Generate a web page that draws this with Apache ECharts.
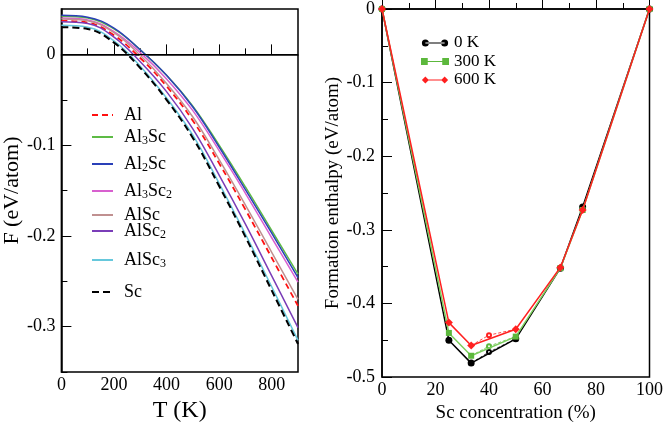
<!DOCTYPE html>
<html><head><meta charset="utf-8">
<script src="https://cdn.jsdelivr.net/npm/echarts@6/dist/echarts.min.js"></script>
<style>html,body{margin:0;padding:0;background:#fff}#c{width:666px;height:428px}</style>
</head><body><div id="c"></div><script>
// ---- Left panel: free energy vs temperature ----
const temps = [0, 100, 200, 300, 400, 500, 600, 700, 800, 900];
const F_Al     = [0.037, 0.035, 0.021, -0.004, -0.035, -0.073, -0.120, -0.171, -0.224, -0.277];
const F_Al3Sc  = [0.042, 0.040, 0.028, 0.005, -0.023, -0.057, -0.100, -0.146, -0.194, -0.242];
const F_Al2Sc  = [0.043, 0.041, 0.029, 0.005, -0.023, -0.058, -0.102, -0.149, -0.197, -0.246];
const F_Al3Sc2 = [0.040, 0.038, 0.025, 0.002, -0.027, -0.062, -0.106, -0.153, -0.202, -0.251];
const F_AlSc   = [0.039, 0.037, 0.024, -0.001, -0.032, -0.069, -0.116, -0.166, -0.218, -0.270];
const F_AlSc2  = [0.036, 0.034, 0.019, -0.008, -0.041, -0.082, -0.133, -0.187, -0.244, -0.301];
const F_AlSc3  = [0.032, 0.030, 0.015, -0.013, -0.048, -0.089, -0.142, -0.198, -0.256, -0.315];
const F_Sc     = [0.030, 0.028, 0.013, -0.015, -0.050, -0.092, -0.145, -0.201, -0.260, -0.319];
const phaseNames = ['Al', 'Al3Sc', 'Al2Sc', 'Al3Sc2', 'AlSc', 'AlSc2', 'AlSc3', 'Sc'];
const phaseLabels = ['Al', 'Al{s|3}Sc', 'Al{s|2}Sc', 'Al{s|3}Sc{s|2}', 'AlSc', 'AlSc{s|2}', 'AlSc{s|3}', 'Sc'];
const tTickLabels = [0, 200, 400, 600, 800];
const tMinorTicks = [100, 300, 500, 700];
const fTickLabels = [-0.3, -0.2, -0.1, 0];
const fMinorTicks = [-0.35, -0.25, -0.15, -0.05];

// ---- Right panel: formation enthalpy vs Sc concentration ----
const concentrations = [0, 25, 33.33, 50, 66.67, 75, 100];
const H_0K   = [0, -0.450, -0.481, -0.448, -0.352, -0.269, 0];
const H_300K = [0, -0.440, -0.471, -0.445, -0.352, -0.273, 0];
const H_600K = [0, -0.426, -0.457, -0.435, -0.351, -0.273, 0];
const metaConc = [33.33, 40, 50];
const Hm_0K   = [-0.481, -0.466, -0.448];
const Hm_300K = [-0.471, -0.458, -0.445];
const Hm_600K = [-0.457, -0.443, -0.435];
const tempNames = ['0 K', '300 K', '600 K'];

const FONT = 'Liberation Serif';
const phaseData = [F_Al, F_Al3Sc, F_Al2Sc, F_Al3Sc2, F_AlSc, F_AlSc2, F_AlSc3, F_Sc];
const phaseColors = ['#ff1010', '#5dbb45', '#2a40b8', '#d860cf', '#c09090', '#7a3db8', '#66c8dc', '#000000'];
const phaseDash = [[6, 4], null, null, null, null, null, null, [7, 4]];
const phaseWidth = [1.8, 1.5, 1.5, 1.5, 1.5, 1.5, 1.5, 2];
const legendCenters = [115, 137, 164, 191, 215, 231, 260, 292];

const zip = (xs, ys) => xs.map((x, i) => [x, ys[i]]);

const series = [];
phaseNames.forEach((n, i) => {
  const s = {
    name: n, type: 'line', xAxisIndex: 0, yAxisIndex: 0,
    data: zip(temps, phaseData[i]), smooth: 0.4, symbol: 'none',
    lineStyle: {color: phaseColors[i], width: phaseWidth[i], type: phaseDash[i] || 'solid'},
    itemStyle: {color: phaseColors[i]}, z: 3
  };
  if (i === 0) {
    s.markLine = {silent: true, symbol: ['none', 'none'], label: {show: false},
      lineStyle: {color: '#000', width: 1, type: 'solid'}, data: [{yAxis: 0}]};
  }
  series.push(s);
});

const metaSets = [Hm_0K, Hm_300K, Hm_600K];
const tempSets = [H_0K, H_300K, H_600K];
const tempLine = ['#000000', '#7ccf5e', '#ff2020'];
const tempMark = ['#000000', '#5cb83c', '#ff2020'];
const tempSym = ['circle', 'rect', 'diamond'];
const tempSize = [7, 6, 8];
metaSets.forEach((d, i) => {
  series.push({
    name: 'meta' + i, type: 'line', xAxisIndex: 2, yAxisIndex: 2,
    data: zip(metaConc, d).map((p, k) => k === 1 ? {value: p, symbol: 'emptyCircle', symbolSize: 4} : {value: p, symbol: 'none'}),
    lineStyle: {color: tempMark[i], width: 1, type: [3, 2], opacity: 0.8},
    itemStyle: {color: tempMark[i]}, z: 2
  });
});
tempSets.forEach((d, i) => {
  series.push({
    name: tempNames[i], type: 'line', xAxisIndex: 2, yAxisIndex: 2,
    data: zip(concentrations, d), symbol: tempSym[i], symbolSize: tempSize[i], showSymbol: true,
    lineStyle: {color: tempLine[i], width: 1.5},
    itemStyle: {color: tempMark[i]}, z: 4 + i
  });
});

const labelStyle = {fontFamily: FONT, fontSize: 18, color: '#000'};

const legends = phaseNames.map((n, i) => ({
  data: [n], left: 91, top: legendCenters[i] - 10, orient: 'vertical',
  itemWidth: 21, itemHeight: 10, itemGap: 0, padding: 0, selectedMode: false,
  itemStyle: {opacity: 0, borderWidth: 0},
  formatter: () => phaseLabels[i],
  textStyle: {fontFamily: FONT, fontSize: 18, color: '#000', lineHeight: 20, padding: [0, 0, 0, 6],
    rich: {s: {fontFamily: FONT, fontSize: 12, color: '#000', lineHeight: 12, verticalAlign: 'bottom'}}}
}));
const icons = [
  'path://M0,4a4,4 0 1,0 8,0a4,4 0 1,0 -8,0z M4,3.4h22v1.2h-22z M22,4a4,4 0 1,0 8,0a4,4 0 1,0 -8,0z',
  'path://M0.5,0.5h7v7h-7z M7,3.4h16v1.2h-16z M22.5,0.5h7v7h-7z',
  'path://M0,4L4,0L8,4L4,8z M7,3.4h16v1.2h-16z M22,4L26,0L30,4L26,8z'
];
legends.push({
  data: tempNames.map((n, i) => ({name: n, icon: icons[i]})),
  left: 421, top: 34, orient: 'vertical', itemWidth: 28, itemHeight: 7, itemGap: 0.5, padding: 0,
  selectedMode: false,
  textStyle: {fontFamily: FONT, fontSize: 17, color: '#000', lineHeight: 18}
});

const axisLineStyle = {show: true, lineStyle: {color: '#000', width: 1.5}};
const option = {
  animation: false,
  backgroundColor: '#fff',
  grid: [
    {left: 59, top: 9, width: 239, height: 372, show: true, borderColor: '#000', borderWidth: 1.5},
    {left: 382, top: 9, width: 270, height: 372, show: true, borderColor: '#000', borderWidth: 1.5}
  ],
  legend: legends,
  xAxis: [
    {gridIndex: 0, type: 'value', min: 0, max: 900, position: 'bottom',
      axisLine: axisLineStyle,
      axisTick: {show: true, inside: true, length: 10, customValues: tTickLabels, lineStyle: {color: '#000', width: 1}},
      axisLabel: Object.assign({customValues: tTickLabels, margin: 4}, labelStyle),
      splitLine: {show: false},
      name: 'T (K)', nameLocation: 'middle', nameGap: 22,
      nameTextStyle: {fontFamily: FONT, fontSize: 24, color: '#000'}},
    {gridIndex: 0, type: 'value', min: 0, max: 900, position: 'bottom',
      axisLine: {show: false},
      axisTick: {show: true, inside: true, length: 6, customValues: tMinorTicks, lineStyle: {color: '#000', width: 1}},
      axisLabel: {show: false}, splitLine: {show: false}},
    {gridIndex: 1, type: 'value', min: 0, max: 100, interval: 20, position: 'bottom',
      axisLine: axisLineStyle,
      axisTick: {show: true, inside: true, length: 10, lineStyle: {color: '#000', width: 1}},
      minorTick: {show: true, splitNumber: 2, length: 6, lineStyle: {color: '#000', width: 1}},
      axisLabel: Object.assign({margin: 4}, labelStyle),
      splitLine: {show: false}, minorSplitLine: {show: false},
      name: 'Sc concentration (%)', nameLocation: 'middle', nameGap: 22,
      nameTextStyle: {fontFamily: FONT, fontSize: 19, color: '#000'}}
  ],
  yAxis: [
    {gridIndex: 0, type: 'value', min: -0.35, max: 0.05, position: 'left',
      axisLine: axisLineStyle,
      axisTick: {show: true, inside: true, length: 10, customValues: fTickLabels, lineStyle: {color: '#000', width: 1}},
      axisLabel: Object.assign({customValues: fTickLabels, margin: 6}, labelStyle),
      splitLine: {show: false},
      name: 'F (eV/atom)', nameLocation: 'middle', nameGap: 34,
      nameTextStyle: {fontFamily: FONT, fontSize: 22, color: '#000'}},
    {gridIndex: 0, type: 'value', min: -0.35, max: 0.05, position: 'left',
      axisLine: {show: false},
      axisTick: {show: true, inside: true, length: 6, customValues: fMinorTicks, lineStyle: {color: '#000', width: 1}},
      axisLabel: {show: false}, splitLine: {show: false}},
    {gridIndex: 1, type: 'value', min: -0.5, max: 0, interval: 0.1, position: 'left',
      axisLine: axisLineStyle,
      axisTick: {show: true, inside: true, length: 10, lineStyle: {color: '#000', width: 1}},
      minorTick: {show: true, splitNumber: 2, length: 6, lineStyle: {color: '#000', width: 1}},
      axisLabel: Object.assign({margin: 7}, labelStyle),
      splitLine: {show: false}, minorSplitLine: {show: false},
      name: 'Formation enthalpy (eV/atom)', nameLocation: 'middle', nameGap: 39,
      nameTextStyle: {fontFamily: FONT, fontSize: 19, color: '#000'}}
  ],
  series: series
};
const chart = echarts.init(document.getElementById('c'), null, {renderer: 'canvas'});
chart.setOption(option);
</script></body></html>
